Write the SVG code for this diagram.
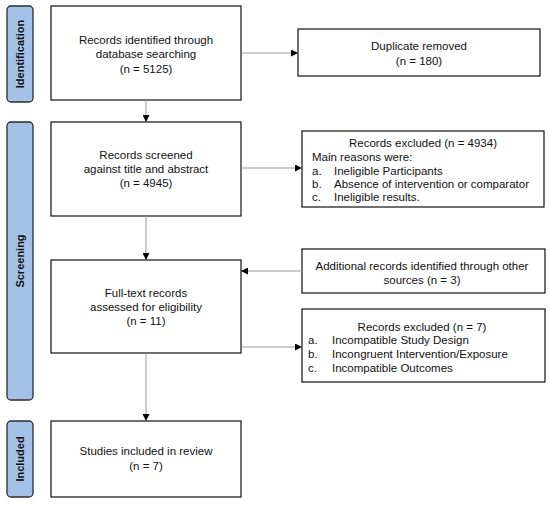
<svg xmlns="http://www.w3.org/2000/svg" width="550" height="505" viewBox="0 0 550 505">
<defs>
<marker id="ah" markerWidth="7" markerHeight="7" refX="6" refY="3.5" orient="auto" markerUnits="userSpaceOnUse">
<path d="M0,0 L7,3.5 L0,7 Z" fill="#000"/>
</marker>
<style>
.box{fill:#fff;stroke:#222;stroke-width:1.3}
.lab{fill:#a4c2e8;stroke:#2b2b2b;stroke-width:1.3}
.t{font-family:"Liberation Sans",Arial,sans-serif;font-size:11.5px;fill:#111}
.c{text-anchor:middle}
.lt{font-family:"Liberation Sans",Arial,sans-serif;font-size:11px;font-weight:bold;fill:#111;text-anchor:middle}
.con{stroke:#999;stroke-width:1;fill:none;marker-end:url(#ah)}
</style>
</defs>
<rect width="550" height="505" fill="#fff"/>
<g id="stage-identification">
<rect class="lab" x="7" y="6" width="26" height="96" rx="4"/>
<text class="lt" transform="translate(24,54) rotate(-90)">Identification</text>
</g>
<g id="stage-screening">
<rect class="lab" x="7" y="122" width="26" height="278" rx="4"/>
<text class="lt" transform="translate(24,261) rotate(-90)">Screening</text>
</g>
<g id="stage-included">
<rect class="lab" x="7" y="421" width="26" height="76" rx="4"/>
<text class="lt" transform="translate(24,459) rotate(-90)">Included</text>
</g>
<g id="identified">
<rect class="box" x="51" y="6" width="190" height="94"/>
<text class="t c" x="146" y="44">Records identified through</text>
<text class="t c" x="146" y="58">database searching</text>
<text class="t c" x="146" y="73">(n = 5125)</text>
</g>
<g id="duplicates">
<rect class="box" x="298" y="29" width="242" height="47"/>
<text class="t c" x="419" y="50">Duplicate removed</text>
<text class="t c" x="419" y="65">(n = 180)</text>
</g>
<g id="screened">
<rect class="box" x="51" y="122" width="190" height="94"/>
<text class="t c" x="146" y="159">Records screened</text>
<text class="t c" x="146" y="173">against title and abstract</text>
<text class="t c" x="146" y="187">(n = 4945)</text>
</g>
<g id="excluded1">
<rect class="box" x="302" y="131" width="242" height="76"/>
<text class="t c" x="423" y="147">Records excluded (n = 4934)</text>
<text class="t" x="312" y="161">Main reasons were:</text>
<text class="t" x="312" y="175">a.</text><text class="t" x="334" y="175">Ineligible Participants</text>
<text class="t" x="312" y="188">b.</text><text class="t" x="334" y="188">Absence of intervention or comparator</text>
<text class="t" x="312" y="201">c.</text><text class="t" x="334" y="201">Ineligible results.</text>
</g>
<g id="fulltext">
<rect class="box" x="51" y="260" width="190" height="93"/>
<text class="t c" x="146" y="297">Full-text records</text>
<text class="t c" x="146" y="311">assessed for eligibility</text>
<text class="t c" x="146" y="325">(n = 11)</text>
</g>
<g id="additional">
<rect class="box" x="302" y="249" width="243" height="44"/>
<text class="t c" x="422" y="270">Additional records identified through other</text>
<text class="t c" x="422" y="284">sources (n = 3)</text>
</g>
<g id="excluded2">
<rect class="box" x="302" y="309" width="243" height="73"/>
<text class="t c" x="422" y="331">Records excluded (n = 7)</text>
<text class="t" x="308" y="344">a.</text><text class="t" x="332" y="344">Incompatible Study Design</text>
<text class="t" x="308" y="358">b.</text><text class="t" x="332" y="358">Incongruent Intervention/Exposure</text>
<text class="t" x="308" y="372">c.</text><text class="t" x="332" y="372">Incompatible Outcomes</text>
</g>
<g id="included">
<rect class="box" x="51" y="421" width="190" height="76"/>
<text class="t c" x="146" y="455">Studies included in review</text>
<text class="t c" x="146" y="470">(n = 7)</text>
</g>
<g id="connectors">
<line class="con" x1="241" y1="53" x2="297" y2="53"/>
<line class="con" x1="146" y1="100" x2="146" y2="121"/>
<line class="con" x1="241" y1="168" x2="301" y2="168"/>
<line class="con" x1="146" y1="216" x2="146" y2="259"/>
<line class="con" x1="302" y1="271" x2="242" y2="271"/>
<line class="con" x1="241" y1="347" x2="301" y2="347"/>
<line class="con" x1="146" y1="353" x2="146" y2="420"/>
</g>
</svg>
